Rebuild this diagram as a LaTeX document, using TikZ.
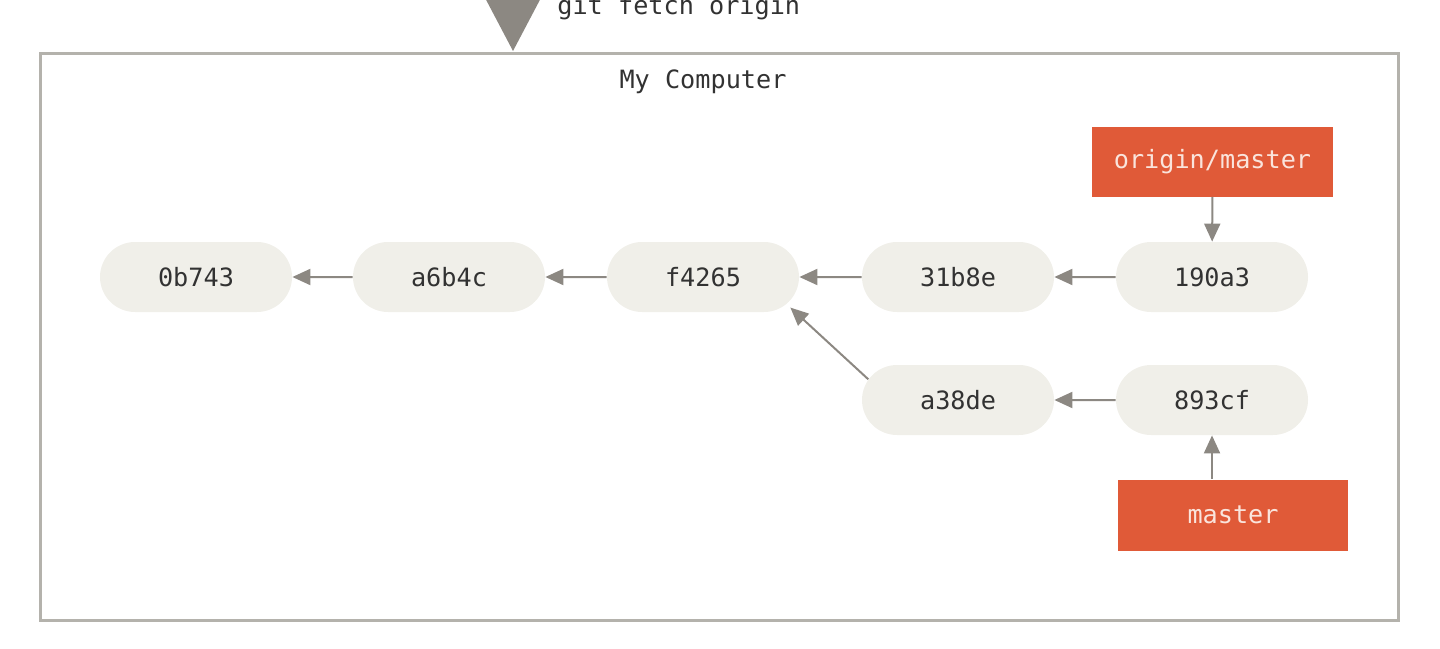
\documentclass[tikz,border=0pt]{standalone}
\usepackage{fontspec}
\setmonofont{DejaVu Sans Mono}
\usetikzlibrary{arrows.meta}
\usetikzlibrary{shapes.misc}
\definecolor{commitfill}{RGB}{240,239,233}
\definecolor{linkgray}{RGB}{140,136,130}
\definecolor{framegray}{RGB}{180,178,172}
\definecolor{branchred}{RGB}{224,90,56}
\definecolor{branchtext}{RGB}{250,228,220}
\definecolor{labeltext}{RGB}{50,50,50}

\begin{document}
\begin{tikzpicture}[x=0.5pt,y=0.5pt,yscale=-1,xscale=1,
  monotext/.style={font=\ttfamily\fontsize{12.6}{15}\selectfont, text=labeltext},
  commit/.style={rounded rectangle, fill=commitfill, minimum width=96pt, minimum height=35pt, inner sep=0pt, monotext},
  branch/.style={rectangle, fill=branchred, inner sep=0pt, monotext, text=branchtext},
  link/.style={draw=linkgray, line width=1pt, -{Triangle[length=9pt,width=8pt]}}]
\useasboundingbox (0,0) rectangle (1440,648);
\clip (0,0) rectangle (1440,648);

%Shape: Rectangle [id:frame]
\draw [draw=framegray, line width=1.5pt] (40,53) rectangle (1398,620) ;
%Shape: Triangle [id:fetch]
\fill [linkgray] (483,-6) -- (543,-6) -- (513,51) -- cycle ;

% Text Node
\node (fetch) [monotext, anchor=base west, inner sep=0pt] at (557,14) {git fetch origin};
% Text Node
\node (computer) [monotext, anchor=base, inner sep=0pt] at (703,88) {My Computer};

% Commits
\node (c0b743) [commit] at (196,277) {0b743};
\node (ca6b4c) [commit] at (449,277) {a6b4c};
\node (cf4265) [commit] at (703,277) {f4265};
\node (c31b8e) [commit] at (958,277) {31b8e};
\node (c190a3) [commit] at (1212,277) {190a3};
\node (ca38de) [commit] at (958,400) {a38de};
\node (c893cf) [commit] at (1212,400) {893cf};

% Branches
\node (originmaster) [branch, minimum width=120.5pt, minimum height=35pt] at (1212.5,161.5) {origin/master};
\node (master) [branch, minimum width=115pt, minimum height=35.5pt] at (1233,515) {master};

%Straight Lines [id:parents]
\draw [link] (ca6b4c) -- (c0b743) ;
\draw [link] (cf4265) -- (ca6b4c) ;
\draw [link] (c31b8e) -- (cf4265) ;
\draw [link] (c190a3) -- (c31b8e) ;
\draw [link] (c893cf) -- (ca38de) ;
\draw [link, shorten >=2.5pt] (ca38de.167) -- (cf4265.-18) ;
%Straight Lines [id:refs]
\draw [link] (originmaster) -- (c190a3) ;
\draw [link] (c893cf.south |- master.north) -- (c893cf.south) ;

\end{tikzpicture}
\end{document}
